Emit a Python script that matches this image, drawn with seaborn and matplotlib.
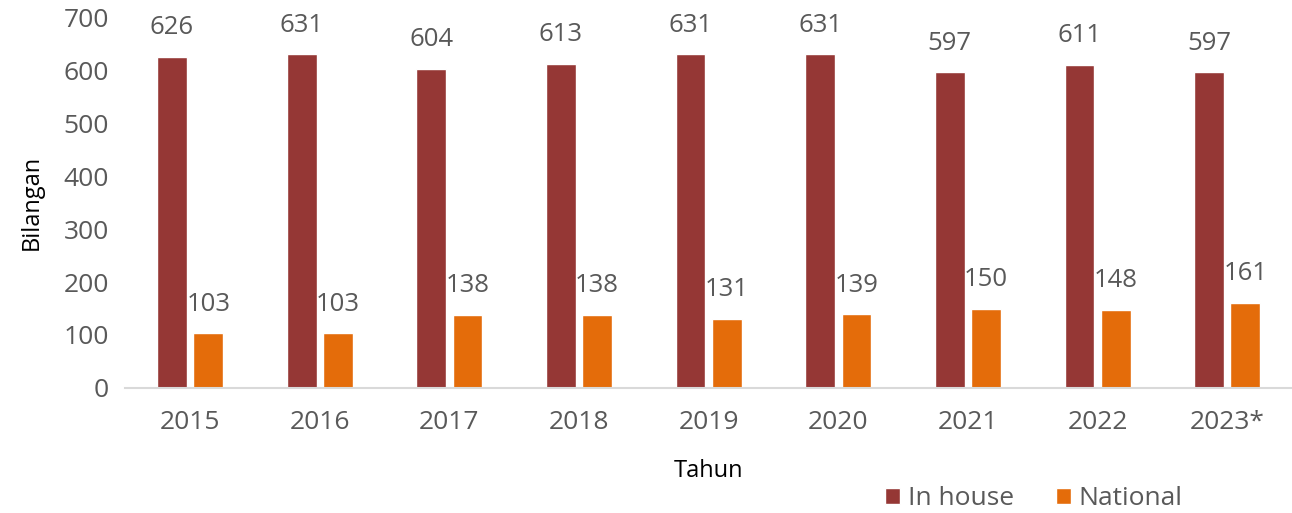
import matplotlib.pyplot as plt
import pandas as pd
import seaborn as sns

years = ["2015", "2016", "2017", "2018", "2019", "2020", "2021", "2022", "2023*"]
in_house = [626, 631, 604, 613, 631, 631, 597, 611, 597]
national = [103, 103, 138, 138, 131, 139, 150, 148, 161]
series = ["In house", "National"]
colors = ["#953735", "#E46C0A"]
text_color = "#595959"

sns.set_style("white")
plt.rcParams["font.family"] = ["Open Sans", "DejaVu Sans"]

df = pd.DataFrame({
    "Tahun": years * 2,
    "Bilangan": in_house + national,
    "Series": [series[0]] * len(years) + [series[1]] * len(years),
})

fig = plt.figure(figsize=(12.92, 5.13), dpi=100)
ax = fig.add_axes([0.097, 0.244, 0.903, 0.721])

sns.barplot(data=df, x="Tahun", y="Bilangan", hue="Series", hue_order=series,
            palette=colors, width=0.56, gap=0.18, saturation=1, ax=ax,
            errorbar=None)

for c in ax.containers:
    ax.bar_label(c, padding=12, fontsize=18.5, color=text_color, clip_on=False)

ax.set_ylim(0, 700)
ax.set_xlim(-0.5, 8.5)
ax.set_yticks(range(0, 701, 100))
sns.despine(ax=ax, left=True, top=True, right=True)
ax.spines["bottom"].set_color("#D9D9D9")
ax.spines["bottom"].set_linewidth(1.5)
ax.tick_params(axis="both", length=0, labelsize=19, colors=text_color)
ax.tick_params(axis="y", pad=12)
ax.tick_params(axis="x", pad=16)
ax.set_xlabel("Tahun", fontsize=17, color="black", labelpad=17)
ax.set_ylabel("Bilangan", fontsize=17, color="black", labelpad=14)

handles, labels = ax.get_legend_handles_labels()
ax.get_legend().remove()
fig.legend(handles, labels, loc="center left", bbox_to_anchor=(0.675, 0.028),
           ncol=2, frameon=False, fontsize=19, labelcolor=text_color,
           handlelength=0.55, handleheight=0.55, handletextpad=0.3,
           columnspacing=1.6, borderpad=0)

fig.savefig("out.png", dpi=100)
